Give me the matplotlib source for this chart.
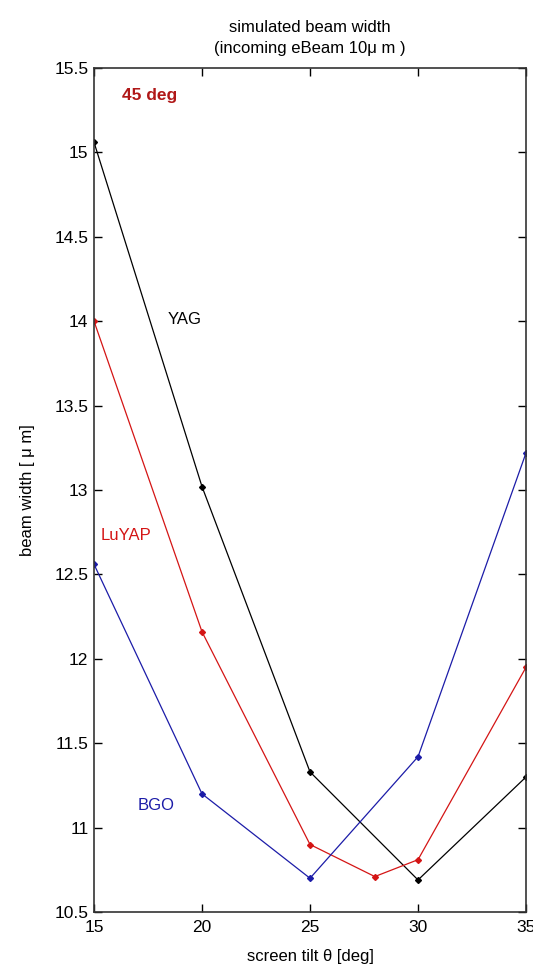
import matplotlib
matplotlib.use('Agg')
import matplotlib.pyplot as plt

plt.rcParams['font.family'] = ['Liberation Sans', 'DejaVu Sans']

# data
tilt = [15, 20, 25, 30, 35]
tilt_luyap = [15, 20, 25, 28, 30, 35]
yag = [15.06, 13.02, 11.33, 10.69, 11.30]
luyap = [14.00, 12.16, 10.90, 10.71, 10.81, 11.95]
bgo = [12.56, 11.20, 10.70, 11.42, 13.22]

black = '#000000'
red = '#d41515'
blue = '#1c1ca8'

fig = plt.figure(figsize=(5.33, 9.69), dpi=100)
ax = fig.add_axes([0.1764, 0.0588, 0.8105, 0.871])

ax.plot(tilt, yag, color=black, lw=0.9, marker='D', ms=3)
ax.plot(tilt_luyap, luyap, color=red, lw=0.9, marker='D', ms=3)
ax.plot(tilt, bgo, color=blue, lw=0.9, marker='D', ms=3)

ax.set_xlim(15, 35)
ax.set_ylim(10.5, 15.5)
ax.set_xticks([15, 20, 25, 30, 35])
ax.set_yticks([10.5, 11, 11.5, 12, 12.5, 13, 13.5, 14, 14.5, 15, 15.5])
ax.set_yticklabels(['10.5', '11', '11.5', '12', '12.5', '13', '13.5', '14', '14.5', '15', '15.5'])
ax.tick_params(direction='in', length=6, width=1, top=True, right=True, labelsize=12.5)
ax.tick_params(axis='x', pad=6)
ax.tick_params(axis='y', pad=4)
for s in ax.spines.values():
    s.set_linewidth(1.2)
    s.set_color('#333333')

# labels on the curves
ax.text(18.4, 14.01, 'YAG', color=black, fontsize=12, va='center')
ax.text(15.3, 12.73, 'LuYAP', color=red, fontsize=12, va='center')
ax.text(17.0, 11.13, 'BGO', color=blue, fontsize=12, va='center')
ax.text(16.3, 15.34, '45 deg', color='#b01818', fontsize=12.5, fontweight='bold', va='center')

ax.set_title('simulated beam width\n(incoming eBeam 10\u03bc m )', fontsize=12, pad=11, linespacing=1.45)
ax.set_xlabel('screen tilt \u03b8 [deg]', fontsize=12, labelpad=10)
ax.set_ylabel('beam width [ \u03bc m]', fontsize=12, labelpad=14)

fig.savefig('out.png', dpi=100)
